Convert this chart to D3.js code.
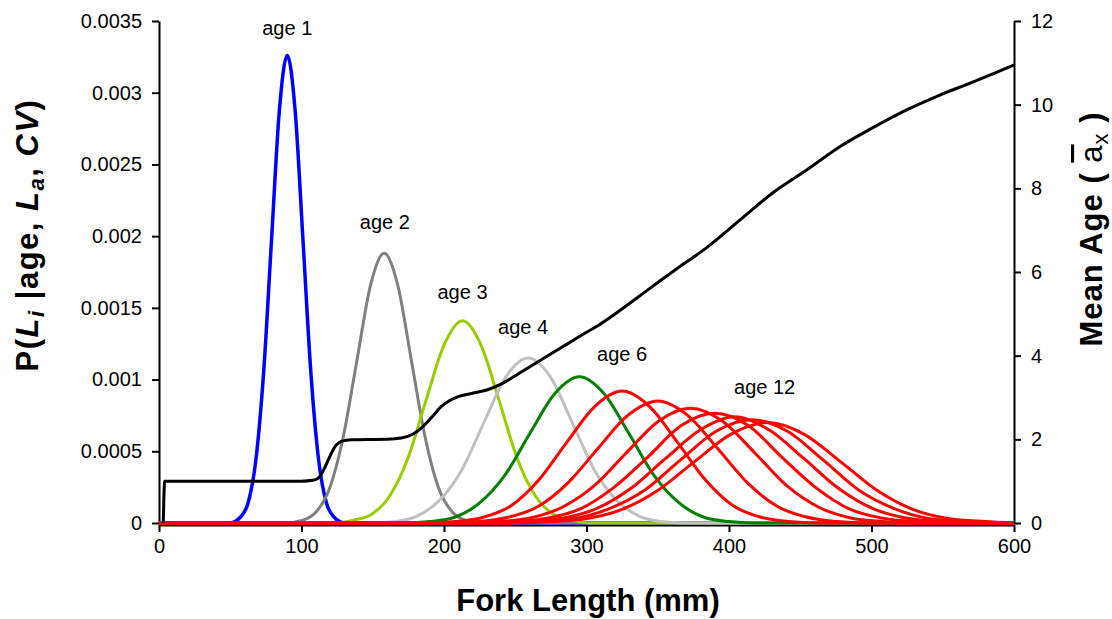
<!DOCTYPE html>
<html>
<head>
<meta charset="utf-8">
<script src="https://d3js.org/d3.v7.min.js"></script>
<style>
body { margin: 0; background: #fff; }
svg text { font-family: "Liberation Sans", Arial, sans-serif; fill: #000; }
</style>
</head>
<body>
<svg width="1112" height="619"></svg>
<script>
// P(L | age) curves, [fork length mm, probability]
const age1 = [[0,0],[50,0],[57,0.00004],[62.5,0.00014],[68,0.00044],[73.5,0.00106],[79,0.00198],[84.5,0.00288],[90,0.00326],[95.5,0.00288],[101,0.00198],[106.5,0.00106],[112,0.00044],[117.5,0.00014],[123,0.00004],[130,0],[600,0]];
const age2 = [[0,0],[88,0],[101,0.00002],[110.5,0.00008],[120,0.00025],[129.5,0.00061],[139,0.00114],[148.5,0.00166],[158,0.00188],[167.5,0.00166],[177,0.00114],[186.5,0.00061],[196,0.00025],[205.5,0.00008],[215,0.00002],[228,0],[600,0]];
const age3 = [[0,0],[124,0],[136.5,0.00002],[149,0.00006],[162,0.00019],[175,0.00046],[187.5,0.00086],[200,0.00124],[213,0.00141],[226,0.00124],[238.5,0.00086],[251,0.00046],[264,0.00019],[277,0.00006],[289.5,0.00002],[302,0],[600,0]];
const age4 = [[0,0],[150,0],[166,0.00001],[181.5,0.00005],[197,0.00016],[212.5,0.00037],[228,0.0007],[243.5,0.00102],[259,0.00115],[274.5,0.00102],[290,0.0007],[305.5,0.00037],[321,0.00016],[336.5,0.00005],[352,0.00001],[368,0],[600,0]];
const age5 = [[0,0],[172,0],[190,0.00001],[207.5,0.00004],[225,0.00014],[242.5,0.00033],[260,0.00062],[277.5,0.0009],[295,0.00102],[312.5,0.0009],[330,0.00062],[347.5,0.00033],[365,0.00014],[382.5,0.00004],[400,0.00001],[418,0],[600,0]];
const age6 = [[0,0],[188,0],[208,0.00001],[227.5,0.00004],[247,0.00012],[266.5,0.0003],[286,0.00056],[305.5,0.00081],[325,0.00092],[344.5,0.00081],[364,0.00056],[383.5,0.0003],[403,0.00012],[422.5,0.00004],[442,0.00001],[462,0],[600,0]];
const age7 = [[0,0],[203,0],[224,0.00001],[245,0.00004],[266,0.000115],[287,0.00028],[308,0.00052],[329,0.00075],[350,0.00085],[371,0.00075],[392,0.00052],[413,0.00028],[434,0.000115],[455,0.00004],[476,0.00001],[497,0],[600,0]];
const age8 = [[0,0],[215,0],[238,0.00001],[260.5,0.000035],[283,0.00011],[305.5,0.00026],[328,0.00049],[350.5,0.00071],[373,0.0008],[395.5,0.00071],[418,0.00049],[440.5,0.00026],[463,0.00011],[485.5,0.000035],[508,0.00001],[530,0],[600,0]];
const age9 = [[0,0],[226,0],[249,0.00001],[272.5,0.000034],[296,0.0001],[319.5,0.00025],[343,0.00046],[366.5,0.00068],[390,0.000765],[413.5,0.00068],[437,0.00046],[460.5,0.00025],[484,0.0001],[507.5,0.000034],[531,0.00001],[554,0],[600,0]];
const age10 = [[0,0],[234,0],[258.5,0.00001],[283,0.000033],[307,0.0001],[331,0.00024],[355.5,0.00045],[380,0.00065],[404,0.00074],[428,0.00065],[452.5,0.00045],[477,0.00024],[501,0.0001],[525,0.000033],[549.5,0.00001],[574,0],[600,0]];
const age11 = [[0,0],[241,0],[266,0.00001],[291,0.00003],[316,0.0001],[341,0.00023],[366,0.00044],[391,0.00064],[416,0.00072],[441,0.00064],[466,0.00044],[491,0.00023],[516,0.0001],[541,0.00003],[566,0.00001],[591,0],[600,0]];
const age12 = [[0,0],[248,0],[274,0.00001],[299.5,0.00003],[325,0.000095],[350.5,0.00023],[376,0.00043],[401.5,0.00062],[427,0.0007],[452.5,0.00062],[478,0.00043],[503.5,0.00023],[529,0.000095],[554.5,0.00003],[580,0.00001],[600,0]];

// mean age at length (right axis)
const meanAgeLen = [3,4,20,60,100,108,112,116,120,124,128,135,160,170,178,185,192,198,204,210,220,230,240,250,262,274,286,297,309,321,337,350,361,385,408,431,455,478,501,525,548,571,586,600];
const meanAge = [0,1,1,1,1,1.02,1.08,1.3,1.6,1.85,1.95,1.99,2.0,2.03,2.12,2.3,2.55,2.78,2.93,3.02,3.1,3.18,3.32,3.52,3.77,4.02,4.27,4.5,4.74,5.02,5.42,5.75,6.02,6.6,7.25,7.9,8.45,9.0,9.45,9.88,10.23,10.54,10.75,10.95];

// annotations: text and the (length, P) they sit at
const labelText = ["age 1","age 2","age 3","age 4","age 6","age 12"];
const labelLen  = [90, 158.5, 213, 255.5, 325, 425];
const labelP    = [0.00345, 0.0021, 0.00161, 0.00137, 0.00118, 0.00095];

const lenTicks = [0,100,200,300,400,500,600];
const pTicks = [0,0.0005,0.001,0.0015,0.002,0.0025,0.003,0.0035];
const ageTicks = [0,2,4,6,8,10,12];

const curves = [age1,age2,age3,age4,age5,age6,age7,age8,age9,age10,age11,age12];
const colors = ["#0000ff","#808080","#99cc00","#c0c0c0","#008000",
                "#ff0000","#ff0000","#ff0000","#ff0000","#ff0000","#ff0000","#ff0000"];

const svg = d3.select("svg");
const x = d3.scaleLinear().domain([0,600]).range([159,1014]);
const yL = d3.scaleLinear().domain([0,0.0035]).range([523,21]);
const yR = d3.scaleLinear().domain([0,12]).range([523,21]);

// axes
function styleAxis(g) {
  g.attr("font-family", null).attr("font-size", 20);
  g.selectAll("path.domain").attr("stroke","#000").attr("stroke-width",2);
  g.selectAll(".tick line").attr("stroke","#000").attr("stroke-width",2);
}
svg.append("g").attr("transform","translate(0,525)")
  .call(d3.axisBottom(x).tickValues(lenTicks).tickSize(7).tickSizeOuter(0).tickPadding(7))
  .call(styleAxis);
svg.append("g").attr("transform","translate(159,0)")
  .call(d3.axisLeft(yL).tickValues(pTicks).tickFormat(d => String(d)).tickSize(7).tickSizeOuter(0).tickPadding(10))
  .call(styleAxis);
svg.append("g").attr("transform","translate(1014,0)")
  .call(d3.axisRight(yR).tickValues(ageTicks).tickSize(7).tickSizeOuter(0).tickPadding(10))
  .call(styleAxis);

// probability curves
const pLine = d3.line().x(d => x(d[0])).y(d => yL(d[1])).curve(d3.curveMonotoneX);
svg.append("g").selectAll("path").data(curves).join("path")
  .attr("d", pLine)
  .attr("fill","none")
  .attr("stroke",(d,i) => colors[i])
  .attr("stroke-width",(d,i) => i === 0 ? 3.5 : 3)
  .attr("stroke-linejoin","round");

// mean age line
const ageLine = d3.line().x(d => x(d[0])).y(d => yR(d[1])).curve(d3.curveMonotoneX);
svg.append("path").datum(meanAgeLen.map((l,i) => [l, meanAge[i]]))
  .attr("d", ageLine)
  .attr("fill","none")
  .attr("stroke","#000")
  .attr("stroke-width",3);

// age labels
svg.append("g").selectAll("text").data(labelText).join("text")
  .attr("x",(d,i) => x(labelLen[i]))
  .attr("y",(d,i) => yL(labelP[i]))
  .attr("dy","0.35em")
  .attr("text-anchor","middle")
  .attr("font-size",20)
  .text(d => d);

// axis titles
svg.append("text")
  .attr("x",588).attr("y",611)
  .attr("text-anchor","middle")
  .attr("font-size",31).attr("font-weight","bold")
  .text("Fork Length (mm)");

const lt = svg.append("text")
  .attr("transform","translate(38,235) rotate(-90)")
  .attr("text-anchor","middle")
  .attr("font-size",31).attr("font-weight","bold")
  .attr("letter-spacing",1.5);
lt.append("tspan").text("P(");
lt.append("tspan").attr("font-style","italic").text("L");
lt.append("tspan").attr("font-style","italic").attr("font-size",22).attr("dy",6).text("i");
lt.append("tspan").attr("dy",-6).text(" |age, ");
lt.append("tspan").attr("font-style","italic").text("L");
lt.append("tspan").attr("font-style","italic").attr("font-size",22).attr("dy",6).text("a");
lt.append("tspan").attr("dy",-6).text(", ");
lt.append("tspan").attr("font-style","italic").text("CV");
lt.append("tspan").text(")");

const rt = svg.append("text")
  .attr("transform","translate(1102,229) rotate(-90)")
  .attr("text-anchor","middle")
  .attr("font-size",31).attr("font-weight","bold")
  .attr("letter-spacing",1);
rt.append("tspan").text("Mean Age ( ");
rt.append("tspan").attr("font-weight","normal").style("text-decoration","overline").text("a");
rt.append("tspan").attr("font-weight","normal").attr("font-size",22).attr("dy",6).text("x");
rt.append("tspan").attr("dy",-6).text("  )");
</script>
</body>
</html>
